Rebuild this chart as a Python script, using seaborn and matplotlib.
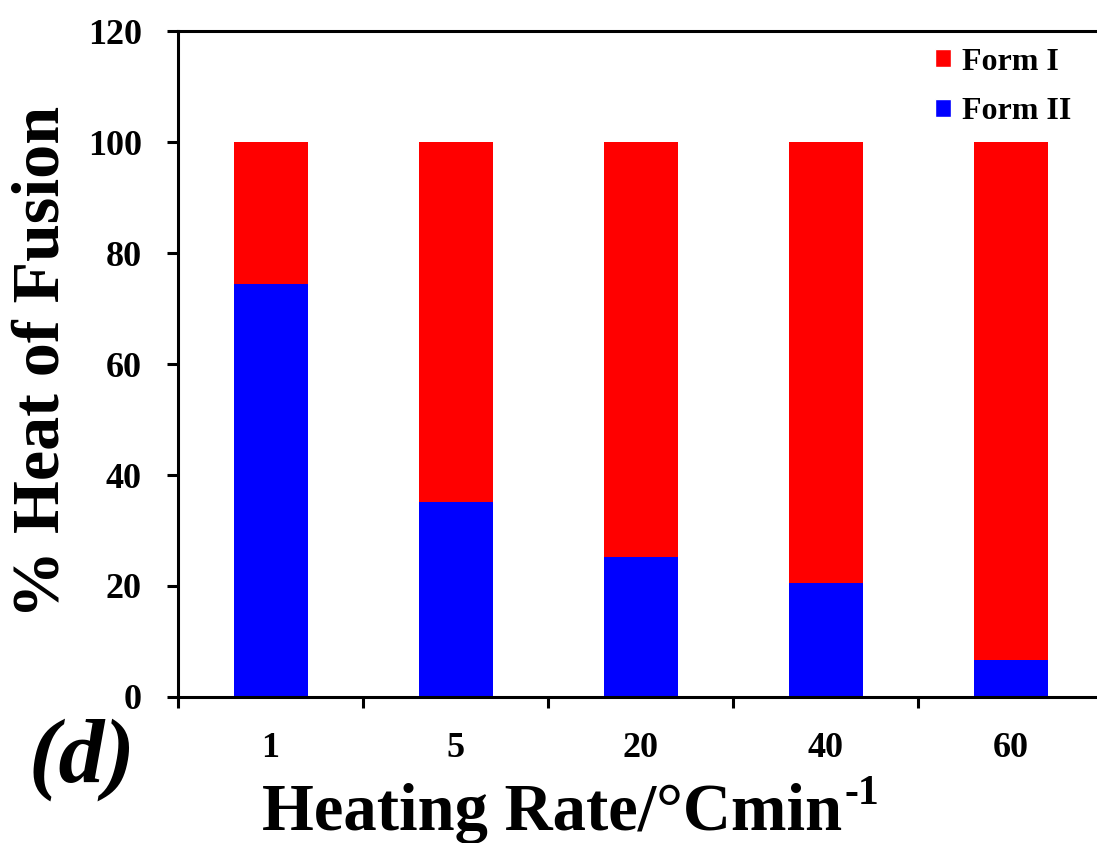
import pandas as pd
import matplotlib
matplotlib.use("Agg")
import matplotlib.pyplot as plt
import seaborn as sns
from matplotlib.patches import Patch
from matplotlib.ticker import FixedLocator

# values
heating_rates = ["1", "5", "20", "40", "60"]
form_ii = [74.5, 35.2, 25.3, 20.6, 6.7]
form_i = [25.5, 64.8, 74.7, 79.4, 93.3]
y_ticks = [0, 20, 40, 60, 80, 100, 120]

data = pd.DataFrame({"rate": heating_rates, "Form I": form_i, "Form II": form_ii})
data["total"] = data["Form I"] + data["Form II"]

sns.set_style("white")
plt.rcParams["font.family"] = ["Liberation Serif", "DejaVu Serif"]
plt.rcParams["font.weight"] = "bold"
for key in ["text.color", "axes.labelcolor", "xtick.color", "ytick.color"]:
    plt.rcParams[key] = "black"

fig = plt.figure(figsize=(10.97, 8.43), dpi=100)
ax = fig.add_axes([0.1623, 0.1732, 0.8432, 0.79])

# stacked bars: total in red, Form II drawn over it in blue
sns.barplot(data=data, x="rate", y="total", color="#FF0000", width=0.4,
            saturation=1, edgecolor="none", linewidth=0, ax=ax)
sns.barplot(data=data, x="rate", y="Form II", color="#0000FF", width=0.4,
            saturation=1, edgecolor="none", linewidth=0, ax=ax)

ax.set_xlim(-0.5, 4.5)
ax.set_ylim(0, 120)
ax.set_yticks(y_ticks)
ax.set_xlabel("")
ax.set_ylabel("")

for side in ["left", "bottom", "top"]:
    ax.spines[side].set_visible(True)
    ax.spines[side].set_color("black")
    ax.spines[side].set_linewidth(2.2)
ax.spines["right"].set_visible(False)

ax.xaxis.set_minor_locator(FixedLocator([i - 0.5 for i in range(6)]))
ax.tick_params(axis="x", which="major", length=0, pad=25, labelsize=26)
ax.tick_params(axis="x", which="minor", direction="out", length=8, width=2.2,
               bottom=True)
ax.tick_params(axis="y", which="major", direction="out", length=8, width=2.2,
               pad=18, labelsize=26, left=True)
for lab in ax.get_xticklabels() + ax.get_yticklabels():
    lab.set_fontweight("bold")

handles = [Patch(facecolor="#FF0000", label="Form I"),
           Patch(facecolor="#0000FF", label="Form II")]
ax.legend(handles=handles, loc="upper left", bbox_to_anchor=(0.832, 0.97),
          bbox_transform=fig.transFigure, frameon=False,
          prop={"size": 23, "weight": "bold"}, handlelength=0.5,
          handleheight=0.5, handletextpad=0.35, labelspacing=0.65,
          borderpad=0.2)

fig.text(42 / 1097, 1 - 362 / 843, "% Heat of Fusion", rotation=90,
         ha="center", va="center", fontsize=49, fontweight="bold")

main = fig.text(262 / 1097, 0.016, "Heating Rate/°Cmin", ha="left",
                va="baseline", fontsize=48, fontweight="bold")
fig.canvas.draw()
bb = main.get_window_extent()
fig.text((bb.x1 + 2) / fig.bbox.width, 0.016 + 26 / 843, "-1", ha="left",
         va="baseline", fontsize=30, fontweight="bold")

fig.text(82 / 1097, 1 - 760 / 843, "(d)", ha="center", va="center",
         fontsize=66, fontweight="bold", fontstyle="italic")

fig.savefig("out.png", dpi=100)
